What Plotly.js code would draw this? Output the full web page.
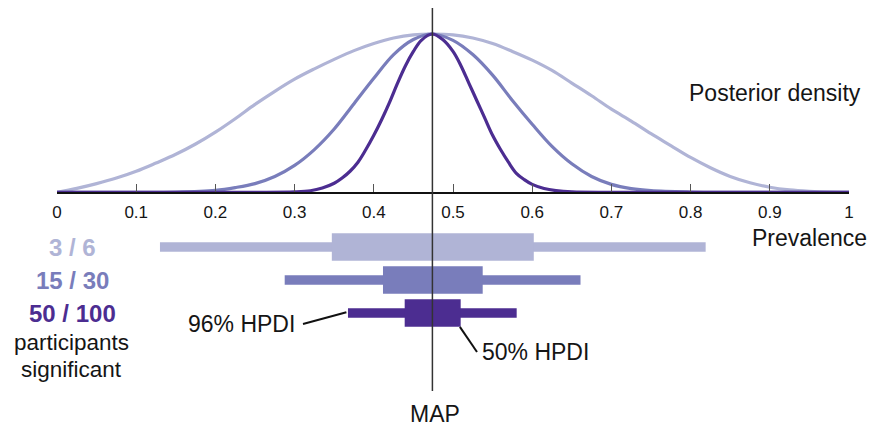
<!DOCTYPE html>
<html><head><meta charset="utf-8">
<script src="https://cdn.plot.ly/plotly-3.0.1.min.js"></script>
<style>html,body{margin:0;padding:0;background:#fff}</style>
</head><body><div id="chart" style="width:870px;height:426px"></div>
<script>
// ---- data ----
const groups = ['3 / 6', '15 / 30', '50 / 100'];
const colors = ['#b0b4d6', '#797dbb', '#4c2d91'];

// posterior density curves (normalised to peak = 1)
const light_x = [0, 0.025, 0.05, 0.075, 0.1, 0.125, 0.15, 0.175, 0.2, 0.225, 0.25, 0.275, 0.3, 0.325, 0.35, 0.375, 0.4, 0.425, 0.45, 0.4735, 0.5, 0.525, 0.55, 0.575, 0.6, 0.625, 0.65, 0.675, 0.7, 0.725, 0.75, 0.775, 0.8, 0.825, 0.85, 0.875, 0.9, 0.925, 0.95, 0.975, 1.0];
const light_y = [0, 0.025, 0.055, 0.09, 0.133, 0.185, 0.24, 0.305, 0.38, 0.465, 0.555, 0.638, 0.715, 0.78, 0.84, 0.895, 0.94, 0.975, 0.995, 1.0, 0.995, 0.975, 0.94, 0.89, 0.835, 0.77, 0.69, 0.61, 0.525, 0.45, 0.37, 0.295, 0.22, 0.155, 0.10, 0.06, 0.032, 0.015, 0.006, 0.001, 0];

const medium_x = [0, 0.1, 0.15, 0.2, 0.225, 0.25, 0.275, 0.3, 0.325, 0.35, 0.375, 0.4, 0.425, 0.45, 0.4735, 0.5, 0.525, 0.55, 0.575, 0.6, 0.625, 0.65, 0.675, 0.7, 0.725, 0.75, 0.8, 0.85, 1.0];
const medium_y = [0, 0, 0.002, 0.013, 0.03, 0.055, 0.10, 0.17, 0.27, 0.40, 0.56, 0.72, 0.87, 0.965, 1.0, 0.96, 0.87, 0.74, 0.58, 0.43, 0.29, 0.18, 0.10, 0.05, 0.023, 0.01, 0.002, 0, 0];

const dark_x = [0, 0.25, 0.3, 0.32, 0.335, 0.35, 0.36, 0.37, 0.38, 0.39, 0.4, 0.41, 0.42, 0.43, 0.44, 0.45, 0.46, 0.4735, 0.487, 0.5, 0.51, 0.52, 0.53, 0.54, 0.55, 0.56, 0.57, 0.58, 0.59, 0.6, 0.615, 0.63, 0.65, 0.7, 1.0];
const dark_y = [0, 0, 0.003, 0.01, 0.027, 0.057, 0.09, 0.133, 0.19, 0.27, 0.36, 0.46, 0.57, 0.69, 0.80, 0.89, 0.96, 1.0, 0.965, 0.89, 0.80, 0.69, 0.58, 0.47, 0.36, 0.27, 0.19, 0.12, 0.08, 0.05, 0.024, 0.011, 0.003, 0, 0];

const mapValue = 0.474;

// HPDI intervals per group
const hpdi96_lo = [0.130, 0.2875, 0.3674];
const hpdi96_hi = [0.819, 0.661, 0.5804];
const hpdi50_lo = [0.347, 0.4116, 0.439];
const hpdi50_hi = [0.602, 0.5375, 0.5097];

const tickVals = [0, 0.1, 0.2, 0.3, 0.4, 0.5, 0.6, 0.7, 0.8, 0.9, 1];
const tickText = ['0', '0.1', '0.2', '0.3', '0.4', '0.5', '0.6', '0.7', '0.8', '0.9', '1'];

// ---- build ----
const rows = groups.map((g, i) => i);
const curveSets = [[light_x, light_y], [medium_x, medium_y], [dark_x, dark_y]];

const traces = [];
curveSets.forEach((c, i) => {
  traces.push({
    type: 'scatter', mode: 'lines', x: c[0], y: c[1],
    xaxis: 'x', yaxis: 'y',
    line: {color: colors[i], width: 3.2, shape: 'spline', smoothing: 1, simplify: false},
    hoverinfo: 'none'
  });
});
traces.push({
  type: 'bar', orientation: 'h', xaxis: 'x', yaxis: 'y2',
  y: rows, base: hpdi96_lo, x: hpdi96_hi.map((h, i) => h - hpdi96_lo[i]),
  width: 0.29, marker: {color: colors, line: {width: 0}}, hoverinfo: 'none'
});
traces.push({
  type: 'bar', orientation: 'h', xaxis: 'x', yaxis: 'y2',
  y: rows, base: hpdi50_lo, x: hpdi50_hi.map((h, i) => h - hpdi50_lo[i]),
  width: 0.84, marker: {color: colors, line: {width: 0}}, hoverinfo: 'none'
});

const H = 426;
const fy = px => (H - px) / H;           // paper fraction from pixel row
const fx = px => (px - 57) / 792;        // x fraction from pixel column
const ry = px => (px - 247) / 33;        // y2 row value from pixel row

const font = 'Liberation Sans, Arial, Helvetica, sans-serif';
const txt = '#151515';

const annotations = groups.map((g, i) => ({
  text: g, xref: 'paper', yref: 'y2', x: fx(72), y: i, showarrow: false,
  xanchor: 'center', yanchor: 'middle',
  font: {family: font, size: 24, color: colors[i], weight: 700}
}));
annotations.push(
  {text: 'participants', xref: 'paper', yref: 'paper', x: fx(71), y: fy(356), showarrow: false, xanchor: 'center', yanchor: 'bottom', borderpad: 0, font: {family: font, size: 22.5, color: txt}},
  {text: 'significant', xref: 'paper', yref: 'paper', x: fx(71), y: fy(356), showarrow: false, xanchor: 'center', yanchor: 'top', borderpad: 0, font: {family: font, size: 22.5, color: txt}},
  {text: 'Posterior density', xref: 'paper', yref: 'paper', x: fx(863), y: fy(93), showarrow: false, xanchor: 'right', yanchor: 'middle', font: {family: font, size: 23, color: txt}},
  {text: 'Prevalence', xref: 'paper', yref: 'paper', x: fx(869), y: fy(238), showarrow: false, xanchor: 'right', yanchor: 'middle', font: {family: font, size: 23, color: txt}},
  {text: '96% HPDI', xref: 'paper', yref: 'y2', x: fx(241), y: ry(323.5), showarrow: false, xanchor: 'center', yanchor: 'middle', font: {family: font, size: 23, color: txt}},
  {text: '50% HPDI', xref: 'paper', yref: 'y2', x: fx(535), y: ry(351.5), showarrow: false, xanchor: 'center', yanchor: 'middle', font: {family: font, size: 23, color: txt}},
  {text: 'MAP', xref: 'paper', yref: 'paper', x: fx(434.5), y: fy(414), showarrow: false, xanchor: 'center', yanchor: 'middle', font: {family: font, size: 23, color: txt}}
);

const shapes = [
  {type: 'line', xref: 'x', yref: 'paper', x0: mapValue, x1: mapValue, y0: fy(391), y1: fy(8), line: {color: '#333', width: 1.5}, layer: 'above'},
  {type: 'line', xref: 'x', yref: 'y2', x0: fx(303), y0: ry(324), x1: hpdi96_lo[2] - 0.002, y1: 2 - 0.02, line: {color: '#111', width: 2}, layer: 'above'},
  {type: 'line', xref: 'x', yref: 'y2', x0: hpdi50_hi[2] - 0.001, y0: 2 + 0.42, x1: fx(477), y1: ry(352), line: {color: '#111', width: 2}, layer: 'above'}
];

const layout = {
  width: 870, height: 426,
  margin: {l: 57, r: 21, t: 0, b: 0, pad: 0},
  paper_bgcolor: '#fff', plot_bgcolor: 'rgba(0,0,0,0)',
  showlegend: false, barmode: 'overlay',
  font: {family: font, color: txt},
  xaxis: {
    range: [0, 1], anchor: 'free', position: fy(192.3),
    showline: true, linecolor: '#111', linewidth: 1.5,
    ticks: 'inside', ticklen: 8, tickwidth: 1, tickcolor: '#555',
    tickvals: tickVals, ticktext: tickText,
    tickfont: {family: font, size: 17, color: txt},
    ticklabelstandoff: 4,
    showgrid: false, zeroline: false, fixedrange: true
  },
  yaxis: {
    domain: [fy(197.05), fy(29.25)], range: [-0.03, 1.03],
    visible: false, showgrid: false, zeroline: false, fixedrange: true
  },
  yaxis2: {
    domain: [fy(379), fy(223.9)], range: [4, -0.7], anchor: 'x',
    visible: false, showgrid: false, zeroline: false, fixedrange: true
  },
  annotations: annotations,
  shapes: shapes
};

Plotly.newPlot('chart', traces, layout, {staticPlot: true, displayModeBar: false});
</script>
</body></html>
